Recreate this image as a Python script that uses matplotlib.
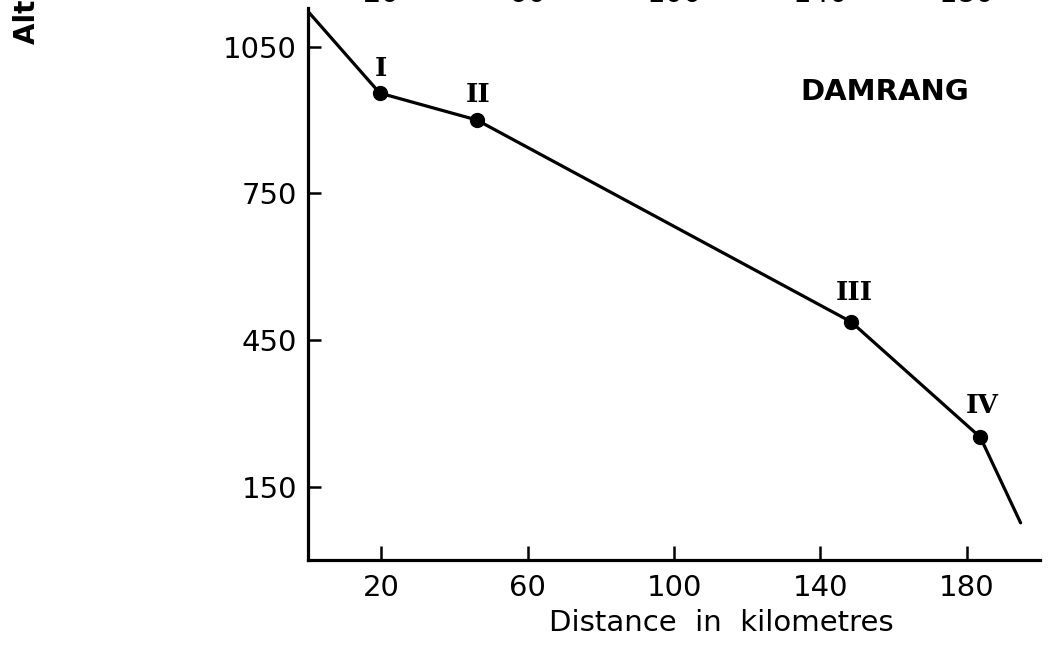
import matplotlib
matplotlib.use("Agg")
import matplotlib.pyplot as plt

# Data (distance in km, altitude in m)
distance = [0, 19.6, 46.1, 148.4, 183.7, 194.7]
altitude = [1122, 955, 900, 487, 251, 76]
stage_km = [19.6, 46.1, 148.4, 183.7]
stage_alt = [955, 900, 487, 251]
stage_names = ["I", "II", "III", "IV"]
x_ticks = [20, 60, 100, 140, 180]
y_ticks = [150, 450, 750, 1050]
river = "DAMRANG"

W, H = 1048, 652
fig = plt.figure(figsize=(W / 100, H / 100), dpi=100)
left_px, right_px, bottom_px, top_px = 308, 1040, 560, 8
ax = fig.add_axes([left_px / W, 1 - bottom_px / H,
                   (right_px - left_px) / W, (bottom_px - top_px) / H])

ax.plot(distance, altitude, color="black", lw=2.3, solid_capstyle="round")
ax.plot(stage_km, stage_alt, "o", color="black", ms=10)

label_offsets = [(1, 18), (1, 18), (2, 21), (1, 23)]
for x, y, name, (dx, dy) in zip(stage_km, stage_alt, stage_names, label_offsets):
    ax.annotate(name, (x, y), xytext=(dx, dy), textcoords="offset points",
                ha="center", va="center", fontsize=19, fontweight="bold",
                family="DejaVu Serif")

ax.set_xlim(0, 200)
ax.set_ylim(0, 1129)
ax.set_xticks(x_ticks)
ax.set_yticks(y_ticks)
ax.set_xticklabels([str(v) for v in x_ticks])
ax.set_yticklabels([str(v) for v in y_ticks])

for s in ["top", "right"]:
    ax.spines[s].set_visible(False)
for s in ["left", "bottom"]:
    ax.spines[s].set_linewidth(2.3)

ax.tick_params(axis="x", direction="in", length=10, width=1.8, pad=10,
               labelsize=21)
ax.tick_params(axis="y", direction="in", length=9, width=1.8, pad=8,
               labelsize=21)

ax.set_xlabel("Distance  in  kilometres", fontsize=21)
ax.xaxis.set_label_coords((721 - left_px) / (right_px - left_px),
                          (bottom_px - 623) / (bottom_px - top_px))
ax.xaxis.label.set_va("center")

fig.text(885 / W, 1 - 92 / H, river, ha="center", va="center",
         fontsize=21, fontweight="bold")

# Cut-off remnants at the top edge (axis labels of a chart above)
for v in x_ticks:
    xf = (left_px + (v / 200) * (right_px - left_px)) / W
    fig.text(xf, 1 - (-6) / H, str(v), ha="center", va="center", fontsize=21)

fig.text(27 / W, 1 - 44 / H, "Altitude in metres", rotation=90,
         ha="center", va="bottom", fontsize=20, fontweight="bold")

fig.savefig("out.png", dpi=100)
